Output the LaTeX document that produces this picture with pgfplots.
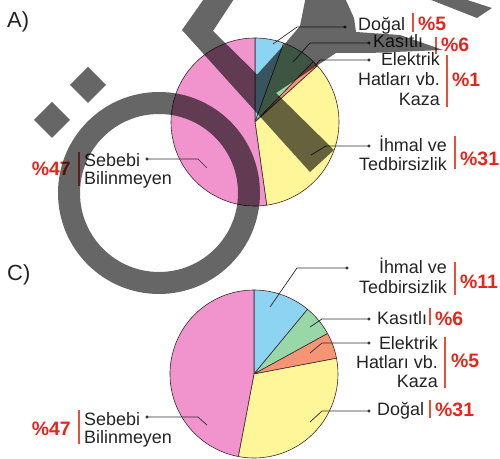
\documentclass[border=0pt]{standalone}
\usepackage{pgfplots}
\pgfplotsset{compat=1.18}
\usepackage{pgfplotstable}
\usepackage{fontspec}
\setmainfont{Liberation Sans}

\definecolor{cblue}{RGB}{140,212,242}
\definecolor{cgreen}{RGB}{152,216,168}
\definecolor{csalmon}{RGB}{246,148,118}
\definecolor{cyellow}{RGB}{255,246,153}
\definecolor{cpink}{RGB}{241,148,206}
\definecolor{pieline}{RGB}{60,40,45}
\definecolor{leader}{RGB}{45,45,45}
\definecolor{txt}{RGB}{35,35,35}
\definecolor{pctred}{RGB}{228,38,28}
\definecolor{barred}{RGB}{232,80,55}

% pie A (values add up to 90, slices are taken from the sum)
\pgfplotstableread{
val col
5  cblue
6  cgreen
1  csalmon
31 cyellow
47 cpink
}\pieA
% pie C
\pgfplotstableread{
val col
11 cblue
6  cgreen
5  csalmon
31 cyellow
47 cpink
}\pieC

\newcommand\lbl{\fontsize{18}{20}\selectfont}
\newcommand\pcf{\fontsize{19.5}{21}\selectfont\bfseries}
\tikzset{
  lab/.style={font=\lbl, text=txt, inner sep=0pt},
  pct/.style={font=\pcf, text=pctred, inner sep=0pt, anchor=base west},
  bar/.style={barred, line width=1.6bp},
  lead/.style={leader, line width=0.7bp, mark=none},
}

% #1 table, #2 #3 centre, #4 radius (bp); clockwise from 12 o'clock
\newcommand\drawpie[4]{%
  \pgfplotstablegetrowsof{#1}\pgfmathtruncatemacro\nrows{\pgfplotsretval-1}%
  \def\total{0}%
  \pgfplotsforeachungrouped \i in {0,...,\nrows}{%
    \pgfplotstablegetelem{\i}{val}\of{#1}%
    \pgfmathsetmacro\total{\total+\pgfplotsretval}}%
  \xdef\angA{90}%
  \pgfplotsforeachungrouped \i in {0,...,\nrows}{%
    \pgfplotstablegetelem{\i}{val}\of{#1}\let\pieval=\pgfplotsretval
    \pgfplotstablegetelem{\i}{col}\of{#1}\let\piecol=\pgfplotsretval
    \pgfmathsetmacro\angB{\angA-\pieval/\total*360}%
    \edef\temp{\noexpand\filldraw[fill=\piecol, draw=pieline, line width=0.6bp, line join=round]
      (axis cs:#2,#3) -- ++(\angA:#4bp) arc[start angle=\angA, end angle=\angB, radius=#4bp] -- cycle;}%
    \temp
    \xdef\angA{\angB}%
  }%
}

\begin{document}
\begin{tikzpicture}
\begin{axis}[
    width=500bp, height=459bp, scale only axis,
    xmin=0, xmax=500, ymin=0, ymax=459,
    y dir=reverse,
    hide axis, clip=false,
]
\drawpie{\pieA}{255}{122}{84}
\drawpie{\pieC}{254}{374}{84}

% leader lines
\addplot[lead] coordinates {(273,44) (297,27) (345,27)};
\addplot[lead] coordinates {(293,62) (310,43) (369,43)};
\addplot[lead] coordinates {(315,66) (320,60) (369,60)};
\addplot[lead] coordinates {(311,155) (326,146) (369,146)};
\addplot[lead] coordinates {(207,168) (198,159) (147,159)};
\addplot[lead] coordinates {(270,307) (297,268) (347,268)};
\addplot[lead] coordinates {(310,327) (322,319) (369,319)};
\addplot[lead] coordinates {(310,353) (322,343) (369,343)};
\addplot[lead] coordinates {(310,422) (322,411) (369,411)};
\addplot[lead] coordinates {(207,425) (198,417) (147,417)};
\addplot[only marks, mark=*, mark size=1.4bp, leader] coordinates {
  (345,27) (369,43) (369,60) (369,146) (147,159)
  (347,268) (369,319) (369,343) (369,411) (147,417)};

% titles
\node[anchor=base west, font=\fontsize{22}{24}\selectfont, text=txt, inner sep=0pt] at (axis cs:7,28) {A)};
\node[anchor=base west, font=\fontsize{22}{24}\selectfont, text=txt, inner sep=0pt] at (axis cs:7,280) {C)};

% labels A
\node[lab, anchor=base west] at (axis cs:358,31) {Doğal};
\draw[bar] (axis cs:413,13) -- (axis cs:413,32);
\node[pct] at (axis cs:418,31) {\%5};
\node[lab, anchor=base west] at (axis cs:373,48) {Kasıtlı};
\draw[bar] (axis cs:436,37) -- (axis cs:436,54);
\node[pct] at (axis cs:441,52) {\%6};
\node[lab, anchor=base east] at (axis cs:440,66) {Elektrik};
\node[lab, anchor=base east] at (axis cs:440,86) {Hatları vb.};
\node[lab, anchor=base east] at (axis cs:440,106) {Kaza};
\draw[bar] (axis cs:447,55) -- (axis cs:447,107);
\node[pct] at (axis cs:452,87) {\%1};
\node[lab, anchor=base east] at (axis cs:447,151) {İhmal ve};
\node[lab, anchor=base east] at (axis cs:447,170) {Tedbirsizlik};
\draw[bar] (axis cs:455,136) -- (axis cs:455,169);
\node[pct] at (axis cs:460,165) {\%31};
\node[lab, anchor=base west] at (axis cs:84,166) {Sebebi};
\node[lab, anchor=base west] at (axis cs:84,184) {Bilinmeyen};
\draw[bar] (axis cs:79,152) -- (axis cs:79,186);
\node[pct, anchor=base east] at (axis cs:71,175) {\%47};

% labels C
\node[lab, anchor=base east] at (axis cs:447,273) {İhmal ve};
\node[lab, anchor=base east] at (axis cs:447,293) {Tedbirsizlik};
\draw[bar] (axis cs:455,262) -- (axis cs:455,295);
\node[pct] at (axis cs:460,288) {\%11};
\node[lab, anchor=base west] at (axis cs:377,324) {Kasıtlı};
\draw[bar] (axis cs:430,308) -- (axis cs:430,325);
\node[pct] at (axis cs:435,325) {\%6};
\node[lab, anchor=base east] at (axis cs:438,349) {Elektrik};
\node[lab, anchor=base east] at (axis cs:438,368) {Hatları vb.};
\node[lab, anchor=base east] at (axis cs:438,387) {Kaza};
\draw[bar] (axis cs:445,337) -- (axis cs:445,388);
\node[pct] at (axis cs:451,367) {\%5};
\node[lab, anchor=base west] at (axis cs:377,415) {Doğal};
\draw[bar] (axis cs:430,400) -- (axis cs:430,418);
\node[pct] at (axis cs:435,416) {\%31};
\node[lab, anchor=base west] at (axis cs:84,425) {Sebebi};
\node[lab, anchor=base west] at (axis cs:84,443) {Bilinmeyen};
\draw[bar] (axis cs:79,410) -- (axis cs:79,444);
\node[pct, anchor=base east] at (axis cs:71,435) {\%47};
\end{axis}

% watermark, in pixel coordinates
\begin{scope}[x=1bp, y=-1bp, shift={(0,459bp)}]
  \clip (0,0) rectangle (500,459);
  \begin{scope}[transparency group, opacity=0.6]
    \fill[black, even odd rule] (159,193) circle[radius=101] (159,193) circle[radius=79];
    \fill[black] (88,67) -- (106,85) -- (88,103) -- (70,85) -- cycle;
    \fill[black] (52,102) -- (70,120) -- (52,138) -- (34,120) -- cycle;
    \fill[black] (206,-4) -- (182,30) -- (310,172) -- (334,150) -- (213,31) -- (236,-4) -- cycle;
    \fill[black] (306,-4) -- (344,-4) -- (354,18) -- (356,32) -- (400,35) -- (443,50)
      -- (370,53) -- (336,53) -- (276,93) -- (262,106) -- (244,89) -- (283,46) -- (300,26) -- cycle;
    \fill[black] (421,-4) -- (455,-4) -- (492,8) -- (477,18) -- cycle;
  \end{scope}
\end{scope}
\pgfresetboundingbox
\path (0,0) rectangle (500bp,459bp);
\end{tikzpicture}
\end{document}
